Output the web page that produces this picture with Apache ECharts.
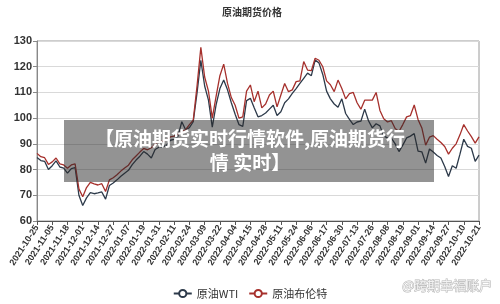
<!DOCTYPE html>
<html>
<head>
<meta charset="utf-8">
<script src="https://cdn.jsdelivr.net/npm/echarts@6/dist/echarts.min.js"></script>
<style>
html,body{margin:0;padding:0;background:#fff;}
#c{width:500px;height:304px;}
</style>
</head>
<body>
<div id="c"></div>
<script>
// x-axis categories (every 4th one is a printed tick label)
const dates = [
"2021-10-25","2021-10-27","2021-10-29","2021-11-02",
"2021-11-05","2021-11-09","2021-11-11","2021-11-16",
"2021-11-18","2021-11-22","2021-11-24","2021-11-29",
"2021-12-01","2021-12-03","2021-12-07","2021-12-09",
"2021-12-14","2021-12-16","2021-12-20","2021-12-22",
"2021-12-27","2021-12-29","2021-12-31","2022-01-04",
"2022-01-07","2022-01-11","2022-01-13","2022-01-17",
"2022-01-19","2022-01-21","2022-01-25","2022-01-27",
"2022-01-31","2022-02-02","2022-02-04","2022-02-08",
"2022-02-11","2022-02-15","2022-02-17","2022-02-22",
"2022-02-24","2022-02-28","2022-03-02","2022-03-04",
"2022-03-09","2022-03-11","2022-03-15","2022-03-17",
"2022-03-22","2022-03-24","2022-03-28","2022-03-31",
"2022-04-04","2022-04-06","2022-04-08","2022-04-12",
"2022-04-15","2022-04-19","2022-04-21","2022-04-26",
"2022-04-28","2022-05-02","2022-05-04","2022-05-06",
"2022-05-11","2022-05-13","2022-05-17","2022-05-19",
"2022-05-24","2022-05-26","2022-05-30","2022-06-01",
"2022-06-06","2022-06-08","2022-06-10","2022-06-14",
"2022-06-17","2022-06-21","2022-06-23","2022-06-28",
"2022-06-30","2022-07-05","2022-07-07","2022-07-11",
"2022-07-13","2022-07-15","2022-07-19","2022-07-21",
"2022-07-26","2022-07-28","2022-08-01","2022-08-03",
"2022-08-08","2022-08-10","2022-08-12","2022-08-16",
"2022-08-19","2022-08-23","2022-08-25","2022-08-30",
"2022-09-01","2022-09-06","2022-09-08","2022-09-12",
"2022-09-14","2022-09-16","2022-09-20","2022-09-22",
"2022-09-27","2022-09-29","2022-10-03","2022-10-05",
"2022-10-10","2022-10-12","2022-10-14","2022-10-18",
"2022-10-21"
];

const seriesNames = ["原油WTI", "原油布伦特"];

const wti = [84.7,83.5,83.2,80.0,81.5,83.4,81.0,80.6,78.6,80.4,
80.8,70.0,66.0,69.0,71.0,70.6,70.9,71.3,68.5,73.8,
74.8,76.0,77.4,78.6,79.7,81.9,83.7,85.2,87.0,86.0,
84.5,87.8,88.7,88.8,89.5,91.4,91.7,93.0,98.6,95.5,
96.3,98.6,109.8,122.5,112.5,107.0,96.5,105.2,111.5,114.8,
111.0,106.0,101.5,97.5,96.8,106.8,107.7,104.0,100.5,101.0,
102.0,103.5,105.0,101.0,102.5,106.0,107.5,109.6,111.5,113.5,
115.5,117.5,116.5,122.6,121.5,117.0,110.5,107.5,105.5,104.2,
107.5,101.8,99.5,97.5,98.5,98.8,103.5,99.0,96.2,97.8,
97.0,93.0,92.3,92.2,90.0,87.0,89.5,92.3,93.0,94.0,
87.2,86.9,82.5,88.0,86.8,85.5,84.5,81.2,77.3,81.5,
80.5,86.0,91.8,89.0,88.3,83.2,85.6];

const brent = [86.3,85.0,84.6,82.0,83.0,84.5,82.2,81.8,80.5,81.8,
82.2,72.5,69.4,73.0,75.0,74.4,74.0,74.5,71.5,76.0,
76.8,78.0,79.4,80.6,81.7,83.8,85.3,86.8,88.2,87.7,
88.5,89.9,91.0,91.0,91.5,92.7,93.0,93.8,94.7,95.5,
97.5,99.2,112.5,127.5,116.0,110.5,100.0,108.5,116.5,121.0,
113.5,108.0,105.0,100.0,100.5,110.5,112.9,106.4,110.5,104.0,
105.5,109.0,110.5,104.4,109.0,113.5,110.3,111.0,114.2,114.5,
122.0,118.7,118.5,123.3,122.5,120.0,114.5,113.0,110.3,114.8,
111.5,107.5,109.5,110.0,106.0,103.5,107.0,107.0,107.0,110.0,
103.0,99.8,98.5,99.0,96.0,94.8,97.5,100.5,101.0,105.1,
99.5,96.2,89.5,92.6,93.2,91.8,90.5,89.0,86.0,88.3,
90.0,93.5,97.5,95.0,92.8,90.3,92.7];

const yTicks = [60, 70, 80, 90, 100, 110, 120, 130];

const chart = echarts.init(document.getElementById('c'), null, {renderer: 'canvas'});
const cjk = '"Noto Sans CJK SC", "Noto Sans", sans-serif';

chart.setOption({
  animation: false,
  backgroundColor: '#ffffff',
  title: {
    text: '原油期货价格',
    left: 217, top: 2,
    textStyle: {fontSize: 10, fontWeight: 'bold', color: '#333', fontFamily: cjk}
  },
  legend: {
    data: seriesNames,
    bottom: 0,
    left: 'center',
    itemWidth: 18,
    itemHeight: 9,
    itemGap: 10,
    textStyle: {fontSize: 11, color: '#333', fontFamily: cjk}
  },
  grid: {
    left: 37, right: 21, top: 41, bottom: 83,
    show: true, borderColor: '#9a9a9a', borderWidth: 1
  },
  xAxis: {
    type: 'category',
    data: dates,
    boundaryGap: false,
    axisLine: {lineStyle: {color: '#555', width: 1}},
    axisTick: {interval: 3, length: 4, lineStyle: {color: '#555'}},
    axisLabel: {
      interval: 3, rotate: 57, fontSize: 9, color: '#333', fontWeight: 'bold',
      fontFamily: 'Liberation Sans, Arial, sans-serif', margin: 5
    },
    splitLine: {show: false}
  },
  yAxis: {
    type: 'value',
    min: yTicks[0], max: yTicks[yTicks.length - 1], interval: 10,
    axisLine: {show: true, lineStyle: {color: '#888'}},
    axisTick: {show: true, length: 4, lineStyle: {color: '#888'}},
    axisLabel: {fontSize: 11, color: '#333', fontWeight: 'bold', margin: 5,
      fontFamily: 'Liberation Sans, Arial, sans-serif'},
    splitLine: {lineStyle: {color: '#d9d9d9', width: 1}}
  },
  series: [
    {
      name: seriesNames[0], type: 'line', data: wti,
      symbol: 'emptyCircle', symbolSize: 8, showSymbol: false,
      lineStyle: {color: '#2d3a4a', width: 1.3},
      itemStyle: {color: '#2d3a4a'}
    },
    {
      name: seriesNames[1], type: 'line', data: brent,
      symbol: 'emptyCircle', symbolSize: 8, showSymbol: false,
      lineStyle: {color: '#a6302c', width: 1.3},
      itemStyle: {color: '#a6302c'}
    }
  ],
  graphic: [
    {
      type: 'rect', z: 100,
      shape: {x: 64, y: 120, width: 370, height: 62},
      style: {fill: 'rgba(40,40,40,0.5)'}
    },
    {
      type: 'text', z: 101, x: 250, y: 151,
      style: {
        text: '【原油期货实时行情软件,原油期货行\n情 实时】',
        fill: '#ffffff', fontSize: 19, fontWeight: 'bold', fontFamily: cjk,
        align: 'center', verticalAlign: 'middle', lineHeight: 24
      }
    },
    {
      type: 'text', z: 101, x: 402, y: 279,
      style: {
        text: '@跨期幸福账户',
        fill: '#f2f2f2', stroke: '#b5b5b5', lineWidth: 1,
        fontSize: 13, fontFamily: cjk
      }
    }
  ]
});
</script>
</body>
</html>
